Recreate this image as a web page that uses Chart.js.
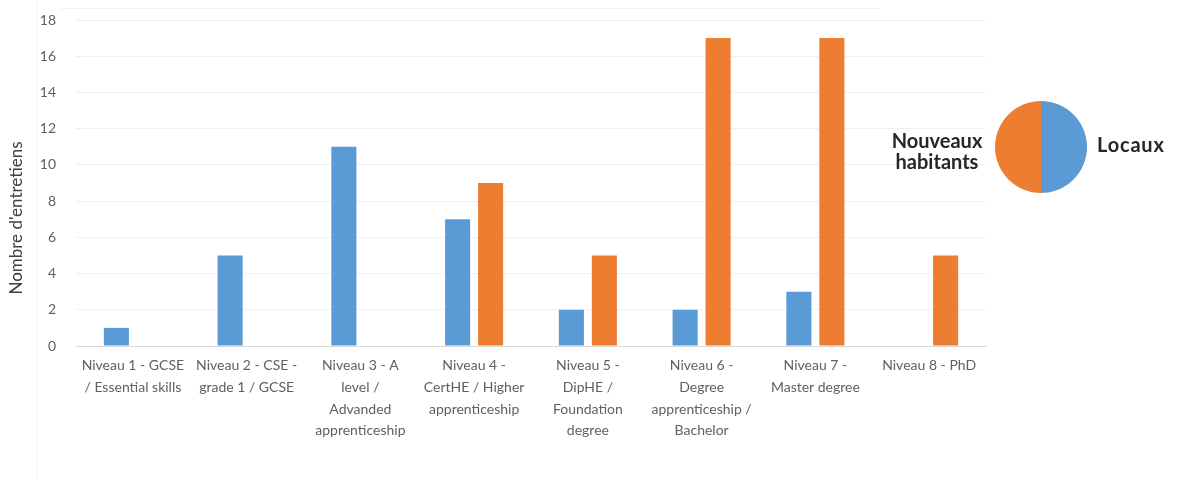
<!DOCTYPE html>
<html>
<head>
<meta charset="utf-8">
<script src="https://cdn.jsdelivr.net/npm/chart.js@4/dist/chart.umd.min.js"></script>
<style>
  html, body { margin: 0; padding: 0; background: #fff; }
  #wrap { position: relative; width: 1177px; height: 480px; overflow: hidden; }
  #bar { position: absolute; left: 0; top: 0; }
  #pieBox { position: absolute; left: 995px; top: 101px; width: 92px; height: 92px; }
  .lbl { position: absolute; font-family: Lato, "Open Sans", sans-serif; font-weight: bold; font-size: 20px; color: #262626; line-height: 21px; }
  #lblN { left: 872px; top: 130px; width: 130px; text-align: center; }
  #lblL { left: 1097px; top: 133px; line-height: 22px; letter-spacing: 0.8px; }
  #vline { position: absolute; left: 36px; top: 0; width: 1px; height: 480px; background: #f3f3f3; }
  #hline { position: absolute; left: 60px; top: 8px; width: 820px; height: 1px; background: #f3f3f3; }
</style>
</head>
<body>
<div id="wrap">
  <div id="vline"></div>
  <div id="hline"></div>
  <canvas id="bar" width="1177" height="480"></canvas>
  <div id="pieBox"><canvas id="pie" width="92" height="92"></canvas></div>
  <div class="lbl" id="lblN">Nouveaux<br>habitants</div>
  <div class="lbl" id="lblL">Locaux</div>
</div>
<script>
const categories = [
  ["Niveau 1 - GCSE", "/ Essential skills"],
  ["Niveau 2 - CSE -", "grade 1 / GCSE"],
  ["Niveau 3 - A", "level /", "Advanded", "apprenticeship"],
  ["Niveau 4 -", "CertHE / Higher", "apprenticeship"],
  ["Niveau 5 -", "DipHE /", "Foundation", "degree"],
  ["Niveau 6 -", "Degree", "apprenticeship /", "Bachelor"],
  ["Niveau 7 -", "Master degree"],
  ["Niveau 8 - PhD"]
];
const locaux = [1, 5, 11, 7, 2, 2, 3, null];
const nouveaux = [null, null, null, 9, 5, 17, 17, 5];
const seriesNames = ["Locaux", "Nouveaux habitants"];
const legendShares = [1, 1];
const yTitle = "Nombre d'entretiens";

const BLUE = "#5B9BD5";
const ORANGE = "#ED7D31";
const FONT = "Lato, 'Open Sans', sans-serif";

const yTitlePlugin = {
  id: "yTitle",
  afterDraw(chart) {
    const ctx = chart.ctx;
    ctx.save();
    ctx.translate(17, 218);
    ctx.rotate(-Math.PI / 2);
    ctx.font = "17px " + FONT;
    ctx.fillStyle = "#404040";
    ctx.textAlign = "center";
    ctx.textBaseline = "middle";
    ctx.fillText(yTitle, 0, 0);
    ctx.restore();
  }
};

new Chart(document.getElementById("bar"), {
  type: "bar",
  data: {
    labels: categories,
    datasets: [
      { label: seriesNames[0], data: locaux, backgroundColor: BLUE, categoryPercentage: 0.58, barPercentage: 0.76 },
      { label: seriesNames[1], data: nouveaux, backgroundColor: ORANGE, categoryPercentage: 0.58, barPercentage: 0.76 }
    ]
  },
  options: {
    responsive: false,
    animation: false,
    layout: { padding: { left: 8, right: 191, top: 20, bottom: 0 } },
    plugins: { legend: { display: false }, tooltip: { enabled: false } },
    scales: {
      x: {
        grid: { display: false },
        border: { display: true, color: "#d9d9d9" },
        ticks: { color: "#606060", font: { family: FONT, size: 14 , lineHeight: 1.55 }, maxRotation: 0, autoSkip: false, padding: 1 },
        afterFit: s => { s.height = 134; }
      },
      y: {
        min: 0, max: 18,
        ticks: { stepSize: 2, color: "#606060", font: { family: FONT, size: 14 }, padding: 20 },
        grid: { color: "#f0f0f0", drawTicks: false },
        border: { display: false },
        afterFit: s => { s.width = 68; s.paddingTop = 0; s.paddingBottom = 0; }
      }
    }
  },
  plugins: [yTitlePlugin]
});

new Chart(document.getElementById("pie"), {
  type: "pie",
  data: {
    labels: seriesNames,
    datasets: [{ data: legendShares, backgroundColor: [BLUE, ORANGE], borderWidth: 0 }]
  },
  options: {
    responsive: false,
    animation: false,
    plugins: { legend: { display: false }, tooltip: { enabled: false } }
  }
});
</script>
</body>
</html>
